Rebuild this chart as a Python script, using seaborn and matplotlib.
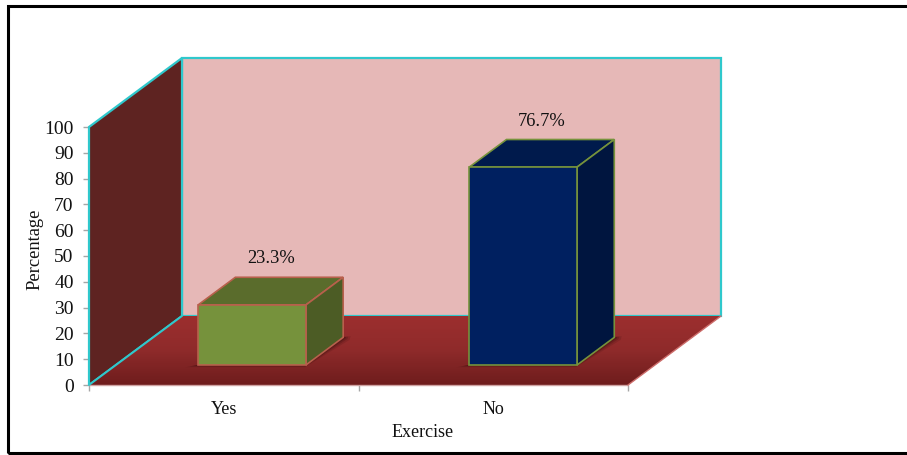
import numpy as np
import pandas as pd
import matplotlib
matplotlib.use("Agg")
import matplotlib.pyplot as plt
from matplotlib.patches import Polygon, Rectangle
from matplotlib.colors import LinearSegmentedColormap
import seaborn as sns

categories = ["Yes", "No"]
percentages = [23.3, 76.7]
value_labels = ["23.3%", "76.7%"]
y_ticks = list(range(0, 101, 10))

front_colors = ["#76923C", "#002060"]
top_colors = ["#5A6C2C", "#001A4C"]
side_colors = ["#4C5C25", "#00153F"]
edge_colors = ["#B8604C", "#76923C"]

WALL_BACK = "#E6B8B7"
WALL_SIDE = "#5E2321"
WALL_EDGE = "#2FC8CC"
FLOOR_COLORS = ["#9C2E2E", "#8E2A2A", "#6E1C1C"]

W, H = 907, 455
PLOT_L, PLOT_R, PLOT_TOP, PLOT_BOTTOM = 89, 628, 127, 385

# Oblique projection: one unit of depth moves a point this far in data units
DEPTH_X = 93 / ((PLOT_R - PLOT_L) / 2)
DEPTH_Y = 69 / ((PLOT_BOTTOM - PLOT_TOP) / 100)
BAR_DEPTH_START = 0.29
BAR_DEPTH_END = 0.69
BAR_WIDTH = 0.4
# Bars sit slightly off the exact category centres
BAR_SHIFT = 0.005
BAR_SPREAD = 1.006


def project(x, y, depth=0.0):
    return x + depth * DEPTH_X, y + depth * DEPTH_Y


sns.set_style("white")
plt.rcParams["font.family"] = ["Liberation Serif", "DejaVu Serif"]

fig = plt.figure(figsize=(W / 100, H / 100), dpi=100, facecolor="white")
ax = fig.add_axes([PLOT_L / W, 1 - PLOT_BOTTOM / H,
                   (PLOT_R - PLOT_L) / W, (PLOT_BOTTOM - PLOT_TOP) / H])
ax.patch.set_visible(False)

table = pd.DataFrame({"Exercise": categories, "Percentage": percentages})
sns.barplot(data=table, x="Exercise", y="Percentage", hue="Exercise",
            palette=front_colors, saturation=1, width=BAR_WIDTH,
            legend=False, ax=ax, zorder=6)

XMIN, XMAX = -0.5, 1.5
YMIN, YMAX = 0, 100
ax.set_xlim(XMIN, XMAX)
ax.set_ylim(YMIN, YMAX)


def add_poly(points, zorder, **kw):
    poly = Polygon(points, closed=True, clip_on=False, zorder=zorder, **kw)
    ax.add_patch(poly)
    return poly


# Back wall and side wall
add_poly([project(XMIN, YMIN, 1), project(XMAX, YMIN, 1),
          project(XMAX, YMAX, 1), project(XMIN, YMAX, 1)],
         1, facecolor=WALL_BACK, edgecolor=WALL_EDGE, linewidth=1.6)
add_poly([project(XMIN, YMIN, 0), project(XMIN, YMIN, 1),
          project(XMIN, YMAX, 1), project(XMIN, YMAX, 0)],
         1.5, facecolor=WALL_SIDE, edgecolor=WALL_EDGE, linewidth=1.6)

# Floor with a vertical gradient, clipped to its parallelogram
floor_pts = [project(XMIN, YMIN, 0), project(XMAX, YMIN, 0),
             project(XMAX, YMIN, 1), project(XMIN, YMIN, 1)]
floor_cmap = LinearSegmentedColormap.from_list("floor", FLOOR_COLORS)
floor_clip = add_poly(floor_pts, 2, facecolor="none", edgecolor="none")
mesh = ax.pcolormesh([XMIN, project(XMAX, 0, 1)[0]], np.linspace(YMIN, DEPTH_Y, 65),
                     np.linspace(1, 0, 64)[:, None], cmap=floor_cmap,
                     shading="flat", zorder=2)
mesh.set_clip_path(floor_clip)
mesh.set_clip_box(None)
ax.set_xlim(XMIN, XMAX)
ax.set_ylim(YMIN, YMAX)

# Light rim along the floor's front and right edges
ax.plot(*zip(project(XMIN, YMIN, 0), project(XMAX, YMIN, 0)),
        color="#CFA3A2", lw=1.0, clip_on=False, zorder=2.5)
ax.plot(*zip(project(XMAX, YMIN, 0), project(XMAX, YMIN, 1)),
        color="#CC6C6A", lw=1.0, clip_on=False, zorder=2.5)
ax.plot(*zip(project(XMIN, YMIN, 0), project(XMIN, YMIN, 1)),
        color=WALL_EDGE, lw=1.4, clip_on=False, zorder=2.6)

# Turn each flat bar into a box standing on the floor
for patch, value, label, top_c, side_c, edge_c in zip(
        ax.patches[:len(categories)], percentages, value_labels,
        top_colors, side_colors, edge_colors):
    width = patch.get_width()
    x0 = (patch.get_x() + width / 2) * BAR_SPREAD + BAR_SHIFT - width / 2
    x1 = x0 + width

    # Soft contact shadow
    for grow, alpha in [(0.036, 0.14), (0.024, 0.20), (0.014, 0.28), (0.005, 0.38)]:
        add_poly([project(x0 - grow, 0, BAR_DEPTH_START - grow * 0.9),
                  project(x1 + grow * 0.2, 0, BAR_DEPTH_START - grow * 0.9),
                  project(x1 + grow, 0, BAR_DEPTH_END - grow),
                  project(x1 + grow * 0.6, 0, BAR_DEPTH_END + grow * 0.5),
                  project(x1 - 0.02, 0, BAR_DEPTH_END)],
                 3, facecolor="#2A0808", edgecolor="none", alpha=alpha)

    fx, fy = project(x0, 0, BAR_DEPTH_START)
    patch.set_x(fx)
    patch.set_y(fy)
    patch.set_edgecolor(edge_c)
    patch.set_linewidth(1.2)
    patch.set_clip_on(False)

    add_poly([project(x0, value, BAR_DEPTH_START), project(x1, value, BAR_DEPTH_START),
              project(x1, value, BAR_DEPTH_END), project(x0, value, BAR_DEPTH_END)],
             5, facecolor=top_c, edgecolor=edge_c, linewidth=1.2)
    add_poly([project(x1, 0, BAR_DEPTH_START), project(x1, 0, BAR_DEPTH_END),
              project(x1, value, BAR_DEPTH_END), project(x1, value, BAR_DEPTH_START)],
             5, facecolor=side_c, edgecolor=edge_c, linewidth=1.2)

    mid_x, _ = project((x0 + x1) / 2, value, (BAR_DEPTH_START + BAR_DEPTH_END) / 2)
    _, back_y = project(x0, value, BAR_DEPTH_END)
    ax.annotate(label, (mid_x, back_y), xytext=(0, 10), textcoords="offset points",
                ha="center", va="baseline", fontsize=13.3, color="#111111",
                annotation_clip=False, zorder=8)

# Axes furniture
sns.despine(ax=ax, left=True, bottom=True, top=True, right=True)
ax.set_yticks(y_ticks)
ax.set_yticklabels([str(t) for t in y_ticks], fontsize=14, color="#111111")
ax.tick_params(axis="y", length=4.3, width=1, color="#A6A6A6", pad=6.7, left=True)
ax.set_xticks([XMIN, 0.5, XMAX])
ax.set_xticklabels([])
ax.tick_params(axis="x", which="major", length=4, width=1, color="#A6A6A6", bottom=True)
ax.set_xticks([0, 1], categories, minor=True)
ax.tick_params(axis="x", which="minor", length=0, pad=11.5, labelsize=13, labelcolor="#111111")
ax.set_xlabel("Exercise", fontsize=13, color="#111111")
ax.set_ylabel("Percentage", fontsize=13.3, color="#111111")
ax.xaxis.set_label_coords((423 - PLOT_L) / (PLOT_R - PLOT_L), -0.153)
ax.yaxis.set_label_coords(-0.085, 0.527)

# Frame around the whole figure
fig.add_artist(Rectangle((8 / W, 1 - 453 / H), 905 / W, 447 / H, transform=fig.transFigure,
                         facecolor="none", edgecolor="black", linewidth=2.2))

fig.savefig("out.png", dpi=100, facecolor="white")
